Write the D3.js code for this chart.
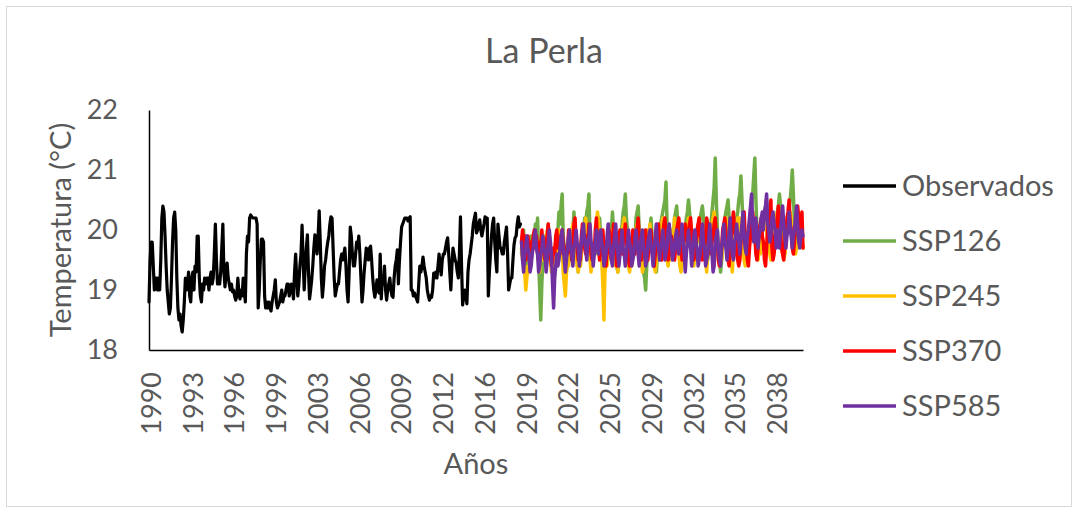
<!DOCTYPE html>
<html><head><meta charset="utf-8">
<script src="https://cdn.jsdelivr.net/npm/d3@7"></script>
<style>body{margin:0;background:#fff}text{font-family:Lato,"Open Sans",sans-serif}</style>
</head><body>
<svg id="c" width="1078" height="513"></svg>
<script>
const title = "La Perla";
const yTitle = "Temperatura (°C)";
const xTitle = "Años";
const firstYear = 1990, lastYear = 2040;
const yTicks = [18, 19, 20, 21, 22];
const tickLabels = ["1990","1993","1996","1999","2003","2006","2009","2012","2016","2019","2022","2025","2029","2032","2035","2038"];
const tickStep = 39;
const seriesNames = ["Observados","SSP126","SSP245","SSP370","SSP585"];
const seriesColors = ["#000000","#70AD47","#FFC000","#FF0000","#7030A0"];

const observados = [
18.8,19.5,19.8,19.8,19.4,19.0,19.2,19.2,19.0,19.2,19.0,19.5,
20.2,20.4,20.3,19.9,19.4,19.0,18.8,18.6,18.7,19.2,19.8,20.2,
20.3,20.0,19.2,18.7,18.5,18.6,18.4,18.3,18.5,18.8,19.2,19.0,
19.1,19.3,18.9,18.8,19.2,19.3,19.0,19.4,19.3,19.9,19.9,19.2,
18.9,18.8,19.1,19.0,19.2,19.1,19.2,19.2,19.0,19.2,19.3,19.1,
19.2,19.6,20.1,19.5,19.1,19.2,19.1,19.3,19.7,20.1,19.3,19.05,
19.3,19.45,19.2,19.1,19.0,19.1,18.97,19.0,18.9,18.83,18.9,19.2,
18.95,18.85,19.0,18.9,19.2,19.0,18.8,19.6,19.9,19.8,20.2,20.25,
20.22,20.2,20.2,20.2,20.2,20.1,18.7,19.0,19.5,19.85,19.85,19.8,
18.9,18.7,18.8,18.7,18.8,18.7,18.65,18.8,18.9,19.0,19.17,18.8,
18.7,18.75,18.8,18.9,19.0,18.8,18.9,18.9,19.0,19.1,19.1,18.9,
19.0,19.1,19.0,18.85,19.3,19.6,19.2,18.9,19.1,19.4,19.6,20.08,
19.5,19.0,19.4,19.7,19.92,19.3,18.85,19.0,19.17,19.4,19.7,19.92,
19.8,19.6,19.9,20.32,19.8,19.2,18.88,19.1,19.4,19.5,19.67,19.8,
19.9,20.1,20.22,20.2,19.7,19.2,18.9,19.0,19.1,19.1,19.3,19.5,
19.6,19.5,19.6,19.7,19.4,19.0,18.8,19.3,20.05,19.9,19.6,19.4,
19.4,19.6,19.8,19.7,19.9,19.6,19.2,18.8,19.0,19.3,19.5,19.7,
19.6,19.5,19.7,19.73,19.5,19.2,19.0,18.88,19.0,19.17,19.0,18.95,
19.6,18.85,19.2,19.1,19.4,19.0,18.83,19.0,19.1,19.2,19.0,18.9,
18.88,19.2,19.4,19.5,19.67,19.1,19.5,19.8,20.05,20.1,20.15,20.2,
20.2,20.2,20.15,20.2,20.22,19.0,19.0,18.9,18.95,18.9,18.85,18.8,
19.1,19.4,19.3,19.4,19.55,19.4,19.3,19.2,19.0,18.9,18.83,18.9,
18.88,19.0,19.28,19.2,19.3,19.2,19.4,19.6,19.4,19.25,19.5,19.6,
19.6,19.7,19.8,19.87,19.6,19.3,19.0,19.4,19.7,19.6,19.5,19.45,
19.3,19.2,19.6,20.22,19.4,18.75,18.9,19.0,18.9,18.77,19.3,19.5,
19.6,19.75,19.9,20.1,20.2,20.28,19.95,20.0,20.1,20.17,20.0,19.9,
20.0,20.1,20.22,20.2,20.2,18.9,19.3,19.6,19.9,20.1,20.2,19.8,
19.5,19.3,20.1,19.9,19.7,19.7,19.6,19.6,19.8,19.92,20.05,19.6,
19.0,19.1,19.2,19.2,19.5,19.75,19.87,19.9,20.1,20.22,20.05,20.1];

const ssp126 = [
19.6,19.9,20.0,19.7,19.8,19.4,19.6,19.7,19.5,19.9,19.8,19.7,
19.9,20.1,19.8,20.2,19.5,19.0,18.5,19.1,19.5,19.7,19.5,19.9,
19.8,20.1,19.8,19.6,19.4,19.3,19.2,19.6,19.8,19.6,20.0,20.3,
20.1,20.4,20.6,19.9,19.7,19.4,19.3,19.6,19.5,19.8,20.0,19.7,
20.0,20.3,19.9,19.8,19.5,19.3,19.6,19.4,19.8,20.0,19.8,20.2,
20.1,20.3,20.4,20.6,19.9,19.6,19.4,19.7,19.8,19.6,20.0,20.1,
19.9,20.2,19.9,19.6,19.4,19.3,19.5,19.7,19.8,19.6,19.9,20.1,
20.0,20.3,20.0,19.8,19.5,19.4,19.3,19.6,19.8,19.9,20.1,20.3,
20.4,20.6,20.2,20.0,19.6,19.5,19.7,19.5,19.9,20.0,19.8,20.2,
20.3,20.4,20.0,19.9,19.6,19.4,19.3,19.2,19.0,19.4,19.7,19.9,
20.0,20.2,19.9,19.7,19.5,19.4,19.3,19.6,19.8,19.9,20.1,20.2,
20.3,20.4,20.5,20.8,20.1,19.8,19.6,19.7,19.9,20.0,19.8,20.2,
20.3,20.4,20.1,19.9,19.7,19.5,19.6,19.5,19.8,20.0,20.2,20.3,
20.5,20.3,20.1,20.0,19.8,19.6,19.5,19.7,19.9,19.8,20.1,20.2,
20.3,20.4,20.2,20.0,19.8,19.6,19.5,19.7,19.9,20.1,20.3,20.5,
20.7,21.2,20.5,20.0,19.7,19.5,19.3,19.5,19.8,20.0,20.2,20.3,
20.4,20.5,20.2,20.0,19.8,19.6,19.7,19.8,20.0,20.2,20.3,20.5,
20.6,20.9,20.5,20.1,19.8,19.7,19.6,19.8,20.0,20.1,20.3,20.4,
20.6,20.9,21.2,20.5,20.0,19.7,19.6,19.7,19.9,20.1,20.2,20.3,
20.4,20.5,20.3,20.0,19.8,19.6,19.6,19.7,19.9,20.1,20.2,20.3,
20.4,20.6,20.4,20.1,19.8,19.7,19.6,19.8,20.0,20.1,20.3,20.5,
20.7,21.0,20.6,20.1,19.9,19.7,19.7,19.8,19.9,20.0,19.8,19.7];

const ssp245 = [
19.7,19.5,19.6,19.3,19.0,19.2,19.4,19.3,19.6,19.8,19.7,19.9,
19.8,20.0,19.7,19.8,19.5,19.3,19.6,19.7,19.5,19.8,19.9,19.7,
20.0,19.8,19.9,19.5,19.3,19.4,19.2,19.6,19.7,19.5,19.9,20.0,
19.8,19.6,19.7,19.3,19.1,18.9,19.3,19.5,19.4,19.8,19.9,20.0,
20.1,19.9,19.7,19.8,19.4,19.3,19.5,19.4,19.7,19.9,19.8,20.0,
20.2,19.9,20.0,19.6,19.5,19.3,19.6,19.5,19.8,19.7,20.1,20.3,
20.1,19.9,19.8,19.5,19.1,18.5,19.3,19.5,19.4,19.7,19.9,19.8,
20.0,19.8,19.9,19.6,19.4,19.5,19.3,19.6,19.8,19.7,20.0,20.1,
20.2,19.9,20.0,19.7,19.4,19.3,19.5,19.4,19.7,19.9,19.8,20.0,
20.1,19.9,19.7,19.8,19.5,19.3,19.4,19.6,19.5,19.8,20.0,19.9,
20.1,19.8,19.9,19.6,19.4,19.3,19.5,19.7,19.6,19.9,20.0,20.1,
20.2,20.0,19.8,19.9,19.5,19.4,19.6,19.5,19.8,20.0,19.9,20.2,
20.0,19.8,19.9,19.6,19.4,19.3,19.5,19.7,19.6,19.9,20.1,20.0,
20.2,20.0,20.1,19.7,19.5,19.4,19.6,19.5,19.9,20.0,20.2,19.9,
20.1,19.9,19.8,19.6,19.5,19.3,19.6,19.7,19.9,19.8,20.1,20.2,
20.3,20.0,19.9,19.7,19.5,19.4,19.6,19.5,19.8,20.0,20.1,20.2,
20.0,19.8,19.9,19.6,19.5,19.3,19.7,19.9,19.8,20.1,20.2,20.0,
20.2,19.9,20.0,19.7,19.5,19.4,19.6,19.8,20.0,19.9,20.2,20.3,
20.1,19.9,20.0,19.7,19.6,19.5,19.7,19.6,19.9,20.1,20.0,20.3,
20.2,20.0,19.8,19.9,19.6,19.5,19.7,19.8,20.0,19.9,20.2,20.3,
20.1,19.9,20.0,19.7,19.6,19.5,19.6,19.8,20.0,20.1,20.0,20.3,
20.2,20.0,19.9,19.8,19.6,19.7,19.8,19.9,20.0,19.9,19.8,19.7];

const ssp370 = [
19.8,20.0,19.7,19.9,19.5,19.6,19.9,19.7,19.8,19.5,19.7,19.9,
20.0,19.8,19.9,19.6,19.5,19.8,19.7,20.0,19.7,19.6,19.5,19.8,
19.9,20.1,19.7,19.6,19.4,19.5,19.7,19.6,19.9,20.0,19.7,19.8,
19.6,19.9,20.0,19.8,19.7,19.5,19.7,19.6,20.0,19.8,19.7,19.5,
19.8,20.1,20.2,19.8,19.7,19.5,19.6,19.5,19.9,20.1,19.8,19.7,
19.6,19.9,19.8,20.1,19.9,19.6,19.5,19.7,19.6,20.0,20.2,19.8,
19.7,19.5,19.7,19.6,20.0,19.7,19.6,19.4,19.7,19.8,20.0,19.6,
19.5,19.8,20.1,19.8,19.7,19.4,19.6,19.9,20.0,19.7,19.6,19.8,
19.9,20.1,19.8,19.7,19.5,19.4,19.7,19.6,20.0,19.9,19.6,19.8,
20.0,20.2,19.9,19.8,19.5,19.6,19.7,19.9,20.0,19.7,19.5,19.7,
19.9,20.0,19.7,19.6,19.4,19.6,19.9,20.0,20.1,19.8,19.7,19.5,
19.8,20.1,20.2,19.9,19.8,19.5,19.6,19.7,19.9,19.8,19.6,19.5,
19.7,20.0,20.1,20.2,19.9,19.8,19.5,19.7,19.9,20.1,19.9,19.8,
19.9,20.1,20.2,19.9,19.8,19.5,19.6,19.7,20.0,20.1,20.2,19.9,
19.8,19.5,19.6,19.7,19.9,20.2,20.1,20.0,19.7,19.6,19.8,19.9,
20.1,20.2,19.9,19.8,19.5,19.4,19.6,19.7,20.0,20.1,20.2,19.9,
19.8,19.5,19.4,19.7,19.9,20.1,20.3,20.0,19.9,19.6,19.5,19.4,
19.5,19.8,20.0,20.2,20.3,19.9,19.8,19.5,19.4,19.7,19.9,20.1,
20.3,20.0,19.9,19.6,19.5,19.7,20.0,20.1,20.2,19.9,19.8,19.5,
19.4,19.7,20.0,20.3,20.1,20.5,19.7,19.5,19.6,19.9,20.0,20.2,
20.4,20.1,20.0,19.7,19.6,19.5,19.8,19.9,20.2,20.3,20.5,20.1,
20.0,19.7,19.6,19.8,20.1,20.2,20.4,20.2,20.1,19.9,20.3,19.7];

const ssp585 = [
19.8,19.5,19.3,19.6,19.7,19.9,19.7,19.6,19.3,19.4,19.6,19.7,
19.9,20.0,19.7,19.6,19.3,19.4,19.6,19.7,19.9,19.7,19.6,19.3,
19.5,19.8,20.0,19.8,19.6,19.1,18.7,19.2,19.4,19.6,19.4,19.5,
19.7,19.9,20.0,19.7,19.5,19.3,19.5,19.7,19.9,20.0,19.7,19.6,
19.4,19.7,19.8,20.0,19.8,19.7,19.4,19.6,19.8,20.0,20.1,19.8,
19.7,19.5,19.8,19.9,20.1,19.8,19.7,19.4,19.6,19.8,20.0,19.7,
19.6,19.9,20.0,19.8,19.7,19.4,19.5,19.6,19.9,20.1,19.8,19.7,
19.5,19.4,19.7,19.9,20.1,19.8,19.6,19.4,19.6,19.8,20.0,19.7,
19.6,19.4,19.6,19.8,20.0,19.8,19.7,19.4,19.5,19.6,19.9,20.0,
19.8,19.6,19.4,19.7,19.9,20.0,19.7,19.6,19.4,19.5,19.8,19.9,
20.0,19.7,19.6,19.4,19.7,19.9,20.1,19.8,19.7,19.5,19.7,19.8,
20.0,19.8,19.5,19.6,19.7,20.0,20.1,19.9,19.8,19.5,19.6,19.7,
19.9,20.0,19.7,19.6,19.8,19.9,20.1,19.8,19.6,19.3,19.6,19.8,
20.0,19.8,19.7,19.4,19.6,19.9,20.0,19.8,19.7,19.4,19.5,19.6,
19.9,20.1,19.8,19.7,19.4,19.5,19.6,19.9,20.1,19.8,19.6,19.3,
19.4,19.8,19.9,20.0,19.7,19.5,19.4,19.7,19.9,20.1,19.8,19.7,
19.5,19.7,20.0,20.2,19.8,19.6,19.5,19.8,19.9,20.1,19.9,19.8,
19.6,19.9,20.1,20.3,19.9,19.7,19.6,19.9,20.0,20.2,20.4,20.6,
20.1,19.8,20.0,20.2,19.8,19.7,19.9,20.0,20.2,20.3,20.0,20.3,
20.4,20.6,20.1,20.0,19.8,19.9,20.2,20.3,20.1,20.0,19.7,20.0,
19.8,19.7,20.0,20.2,20.4,20.1,19.9,19.7,19.9,20.0,20.3,20.1,
19.9,19.7,19.9,20.0,20.2,20.4,20.1,19.8,19.7,19.9,20.0,19.9];

// categories: one per month
const months = [];
for (let y = firstYear; y <= lastYear; y++) for (let m = 1; m <= 12; m++) months.push(y + "-" + m);
const nObs = observados.length;
const projections = [ssp126, ssp245, ssp370, ssp585];

const svg = d3.select("#c");
const grey = "#595959";
svg.append("rect").attr("x",6.5).attr("y",6.5).attr("width",1065).attr("height",500)
  .attr("fill","#fff").attr("stroke","#d9d9d9").attr("stroke-width",1);

const x = d3.scalePoint().domain(months).range([149, 803]);
const y = d3.scaleLinear().domain([18, 22]).range([350, 110]);

svg.append("text").attr("x",544).attr("y",63).attr("text-anchor","middle")
  .attr("font-size",34).attr("fill",grey).text(title);

// y axis
const gy = svg.append("g").attr("transform","translate(149,0)")
  .call(d3.axisLeft(y).tickValues(yTicks).tickSize(0).tickPadding(31).tickFormat(d3.format("d")));
gy.select(".domain").attr("stroke","#000").attr("stroke-width",1.5);
gy.selectAll("text").attr("font-size",27).attr("fill",grey).attr("font-family","Lato");

// x axis
const tickVals = tickLabels.map((t,i) => months[i*tickStep]);
const gx = svg.append("g").attr("transform","translate(0,350)")
  .call(d3.axisBottom(x).tickValues(tickVals).tickSize(0).tickFormat((d,i) => tickLabels[i]));
gx.select(".domain").attr("stroke","#000").attr("stroke-width",1.5);
gx.selectAll("text").attr("font-size",27).attr("fill",grey).attr("font-family","Lato")
  .attr("text-anchor","end").attr("transform","rotate(-90)")
  .attr("x",-22).attr("y",0).attr("dy","0.42em");

svg.append("text").attr("transform","translate(71,230) rotate(-90)").attr("text-anchor","middle")
  .attr("font-size",29).attr("fill",grey).text(yTitle);
svg.append("text").attr("x",476).attr("y",474).attr("text-anchor","middle")
  .attr("font-size",29).attr("fill",grey).text(xTitle);

const line = d3.line().x(d => x(d[0])).y(d => y(d[1])).curve(d3.curveLinear);
svg.append("path").datum(observados.map((v,i) => [months[i], v]))
  .attr("d", line).attr("fill","none").attr("stroke",seriesColors[0])
  .attr("stroke-width",3.2).attr("stroke-linejoin","round").attr("stroke-linecap","round");
projections.forEach((s, k) => {
  svg.append("path").datum(s.map((v,i) => [months[nObs + i], v]))
    .attr("d", line).attr("fill","none").attr("stroke",seriesColors[k+1])
    .attr("stroke-width",3.5).attr("stroke-linejoin","round").attr("stroke-linecap","round");
});

// legend
const lg = svg.append("g");
seriesNames.forEach((n, i) => {
  const yy = 186 + i*55;
  lg.append("line").attr("x1",843).attr("x2",896).attr("y1",yy).attr("y2",yy)
    .attr("stroke",seriesColors[i]).attr("stroke-width",3.5);
  lg.append("text").attr("x",902).attr("y",yy+10).attr("font-size",29).attr("fill",grey).text(n);
});
</script>
</body></html>
